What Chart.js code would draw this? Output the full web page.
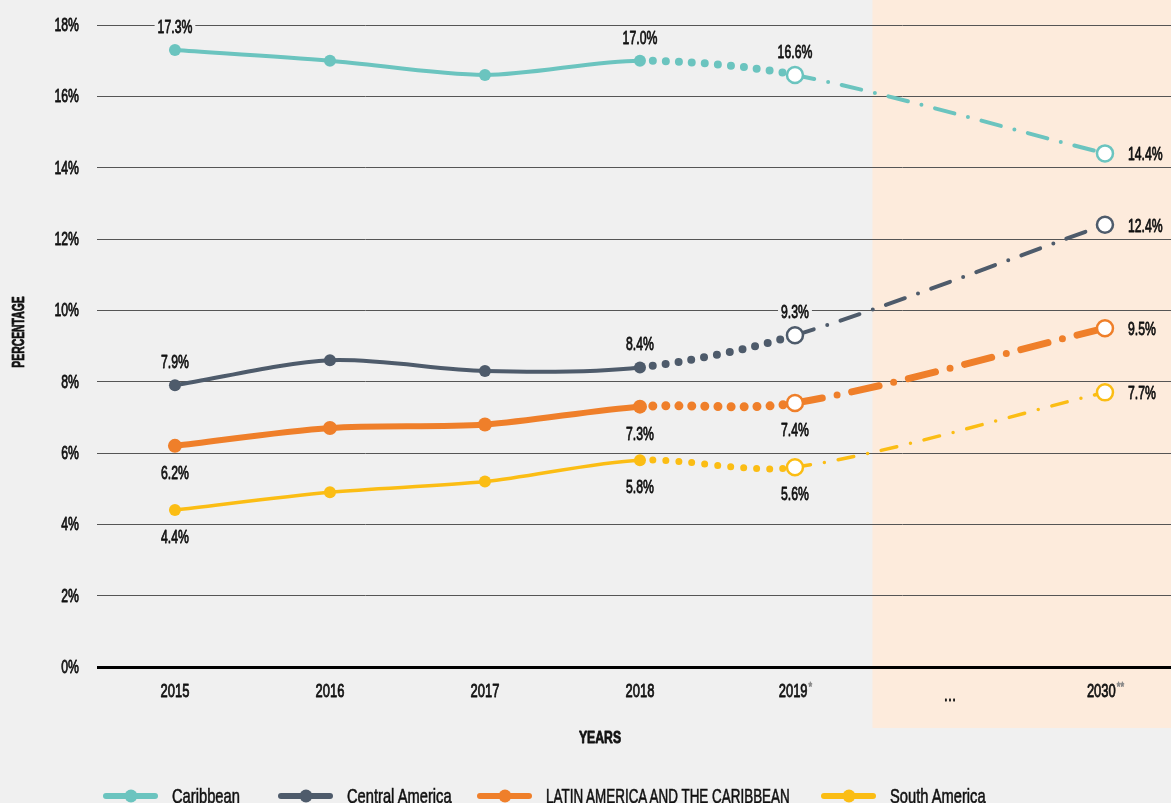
<!DOCTYPE html>
<html>
<head>
<meta charset="utf-8">
<script src="https://cdn.jsdelivr.net/npm/chart.js@4.4.1/dist/chart.umd.min.js"></script>
<style>
  html, body { margin: 0; padding: 0; background: #f0f0f0; overflow: hidden; }
  #wrap { position: relative; width: 1171px; height: 803px; }
  #legend { position: absolute; left: 0; top: 783px; width: 1171px; height: 26px;
    font-family: "Liberation Sans", Arial, sans-serif; font-size: 21px; color: #111; }
  .item { position: absolute; top: 0; height: 26px; white-space: nowrap; }
  .swatch { position: absolute; left: 0; top: 10px; width: 55px; height: 6px; border-radius: 3px; }
  .swatch::after { content: ''; position: absolute; left: 50%; top: 50%; width: 13px; height: 13px;
    border-radius: 50%; background: inherit; transform: translate(-50%, -50%); }
  .name { position: absolute; left: 69px; top: 0; line-height: 26px; display: inline-block;
    transform: scaleX(0.7); transform-origin: left center; -webkit-text-stroke: 0.6px #111; }
  .name.caps { transform: scaleX(0.64); }
</style>
</head>
<body>
<div id="wrap">
  <canvas id="chart" width="1171" height="803"></canvas>
  <div id="legend"></div>
</div>
<script>
const FONT = '"Liberation Sans", Arial, sans-serif';
const SX = 0.7; // horizontal squeeze to imitate the condensed face

// categories on the x axis
const years = ['2015', '2016', '2017', '2018', '2019*', '…', '2030**'];
// y axis
const yMax = 18;
const yStep = 2;

// series values (percent), null = no value for that category
const caribbean = [17.3, 17.0, 16.6, 17.0, 16.6, null, 14.4];
const centralAmerica = [7.9, 8.6, 8.3, 8.4, 9.3, null, 12.4];
const latinAmerica = [6.2, 6.7, 6.8, 7.3, 7.4, null, 9.5];
const southAmerica = [4.4, 4.9, 5.2, 5.8, 5.6, null, 7.7];

const seriesNames = ['Caribbean', 'Central America', 'LATIN AMERICA AND THE CARIBBEAN', 'South America'];
const labelledIdx = [0, 3, 4, 6];

const lastActual = 3;    // 2018
const firstEstimate = 4; // 2019*

const series = [
  { name: seriesNames[0], values: caribbean, color: '#6bc4bf', width: 4, dot: 8, r: 6, dash: [20, 14, 0, 14],
    pos: ['above', 'above', 'above', 'right'], legendLeft: 103 },
  { name: seriesNames[1], values: centralAmerica, color: '#4e5b6b', width: 4, dot: 8, r: 6, dash: [20, 14, 0, 14],
    pos: ['above', 'above', 'above', 'right'], legendLeft: 278 },
  { name: seriesNames[2], values: latinAmerica, color: '#ef7f2a', width: 6, dot: 9, r: 7, dash: [28, 15, 0, 15], dashWidth: 7,
    pos: ['below', 'below', 'below', 'right'], legendLeft: 477 },
  { name: seriesNames[3], values: southAmerica, color: '#fbbd14', width: 3.5, dot: 7, r: 6, dash: [16, 14, 0, 14],
    pos: ['below', 'below', 'below', 'right'], legendLeft: 821 },
];

const datasets = series.map((s) => ({
  label: s.name,
  data: s.values.map((v, i) => ({ x: i, y: v })),
  borderColor: s.color,
  borderWidth: s.width,
  borderCapStyle: 'round',
  tension: 0.3,
  spanGaps: true,
  pointRadius: (c) => (c.dataIndex >= firstEstimate ? 8 : s.r),
  pointBorderWidth: (c) => (c.dataIndex >= firstEstimate ? 2.5 : 0),
  pointBorderColor: s.color,
  pointBackgroundColor: (c) => (c.dataIndex >= firstEstimate ? '#ffffff' : s.color),
  segment: {
    borderDash: (c) => (c.p0DataIndex >= firstEstimate ? s.dash : c.p0DataIndex === lastActual ? [0, 13] : undefined),
    borderWidth: (c) => (c.p0DataIndex >= firstEstimate ? (s.dashWidth || s.width) : c.p0DataIndex === lastActual ? s.dot : undefined),
  },
  labelPos: s.pos,
}));

// draws squeezed, slightly emboldened text, returns its width
function narrowText(ctx, text, x, y, align, sx) {
  const k = sx || SX;
  const w = ctx.measureText(text).width * k;
  const x0 = align === 'center' ? x - w / 2 : align === 'right' ? x - w : x;
  ctx.save();
  ctx.translate(x0, y);
  ctx.scale(k, 1);
  ctx.textAlign = 'left';
  ctx.fillText(text, 0, 0);
  ctx.strokeStyle = ctx.fillStyle;
  ctx.lineWidth = 0.8;
  ctx.lineJoin = 'round';
  ctx.strokeText(text, 0, 0);
  ctx.restore();
  return w;
}

const shadePlugin = {
  id: 'shade',
  beforeDraw(chart) {
    const { ctx, chartArea, scales } = chart;
    const left = scales.x.getPixelForValue(firstEstimate + 0.5);
    ctx.save();
    ctx.fillStyle = '#fdebdc';
    ctx.fillRect(left, 0, chartArea.right - left, chartArea.bottom + 61);
    ctx.restore();
  },
};

const textPlugin = {
  id: 'texts',
  afterDraw(chart) {
    const { ctx, chartArea, scales } = chart;
    const shadeLeft = scales.x.getPixelForValue(firstEstimate + 0.5);
    ctx.save();
    ctx.textBaseline = 'middle';
    ctx.fillStyle = '#111';

    // y tick labels
    ctx.font = '18px ' + FONT;
    scales.y.ticks.forEach((t) => {
      narrowText(ctx, t.value + '%', 79, scales.y.getPixelForValue(t.value) + 1, 'right', 0.68);
    });

    // x tick labels
    years.forEach((y, i) => {
      const x = scales.x.getPixelForValue(i);
      const main = y.replace(/\*+$/, '');
      const star = y.slice(main.length);
      ctx.font = '18px ' + FONT;
      const wMain = ctx.measureText(main).width * 0.72;
      ctx.font = '13px ' + FONT;
      const wStar = ctx.measureText(star).width * 0.72;
      const x0 = x - (wMain + wStar) / 2;
      ctx.fillStyle = '#111';
      ctx.font = '18px ' + FONT;
      narrowText(ctx, main, x0, chartArea.bottom + (main === '…' ? 29 : 25), 'left', 0.72);
      if (star) {
        ctx.fillStyle = '#8a8a8a';
        ctx.font = '13px ' + FONT;
        narrowText(ctx, star, x0 + wMain + 1, chartArea.bottom + 20, 'left', 0.72);
      }
    });

    // axis titles
    ctx.fillStyle = '#111';
    ctx.font = 'bold 17px ' + FONT;
    narrowText(ctx, 'YEARS', 600, chartArea.bottom + 71, 'center', 0.72);
    ctx.font = 'bold 16px ' + FONT;
    ctx.translate(20, 332);
    ctx.rotate(-Math.PI / 2);
    narrowText(ctx, 'PERCENTAGE', 0, 0, 'center', 0.65);
    ctx.restore();

    // value labels
    ctx.save();
    ctx.font = '18px ' + FONT;
    ctx.textBaseline = 'middle';
    chart.data.datasets.forEach((ds, di) => {
      const meta = chart.getDatasetMeta(di);
      labelledIdx.forEach((idx, k) => {
        const pt = meta.data[idx];
        const v = ds.data[idx].y;
        const pos = ds.labelPos[k];
        const text = v.toFixed(1) + '%';
        const w = ctx.measureText(text).width * 0.68;
        let x = pt.x, y = pt.y, x0;
        if (pos === 'above') { y -= 23; x0 = x - w / 2; }
        else if (pos === 'below') { y += 27; x0 = x - w / 2; }
        else { x += 23; y += 1; x0 = x; }
        ctx.fillStyle = x0 > shadeLeft ? '#fdebdc' : '#f0f0f0';
        ctx.fillRect(x0 - 3, y - 8, w + 6, 16);
        ctx.fillStyle = '#111';
        narrowText(ctx, text, x0, y + 1, 'left', 0.68);
      });
    });
    ctx.restore();
  },
};

Chart.defaults.font.family = FONT;

new Chart(document.getElementById('chart'), {
  type: 'line',
  data: { datasets },
  options: {
    responsive: false,
    animation: false,
    events: [],
    layout: { autoPadding: false, padding: { top: 25, right: 0, left: 0, bottom: 0 } },
    plugins: { legend: { display: false }, tooltip: { enabled: false } },
    scales: {
      x: {
        type: 'linear',
        min: -0.503,
        max: years.length - 1 + 0.426,
        grid: { display: false },
        border: { display: false },
        ticks: { display: false, stepSize: 1 },
        afterFit: (s) => { s.height = 136; },
      },
      y: {
        min: 0,
        max: yMax,
        grid: {
          drawTicks: false,
          color: (c) => (c.tick.value === 0 ? '#000' : '#555'),
          lineWidth: (c) => (c.tick.value === 0 ? 3 : 1),
        },
        border: { display: false },
        ticks: { display: false, stepSize: yStep },
        afterFit: (s) => { s.width = 97; },
      },
    },
  },
  plugins: [shadePlugin, textPlugin],
});

// legend
const legend = document.getElementById('legend');
series.forEach((s) => {
  const item = document.createElement('div');
  item.className = 'item';
  item.style.left = s.legendLeft + 'px';
  const sw = document.createElement('span');
  sw.className = 'swatch';
  sw.style.background = s.color;
  const name = document.createElement('span');
  name.className = s.name === s.name.toUpperCase() ? 'name caps' : 'name';
  name.textContent = s.name;
  item.appendChild(sw);
  item.appendChild(name);
  legend.appendChild(item);
});
</script>
</body>
</html>
